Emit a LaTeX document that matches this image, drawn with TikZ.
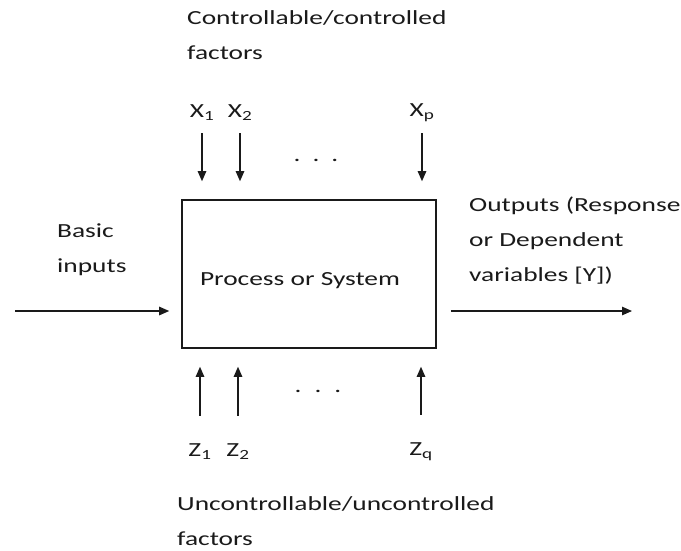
\documentclass[tikz,border=0pt]{standalone}
\usepackage{fontspec}
\setmainfont{Carlito}[FakeStretch=1.37]
\usetikzlibrary{arrows.meta,positioning,calc}
\definecolor{ink}{HTML}{1A1A1A}
\definecolor{paper}{HTML}{FFFFFF}
\tikzset{
  procbox/.style={draw=ink, fill=paper, line width=1.6pt, minimum width=254pt,
                  minimum height=148pt, inner sep=0pt},
  txt/.style={text=ink, font=\fontsize{20}{35}\selectfont, inner sep=0pt},
  blocktxt/.style={txt, align=left, anchor=west},
  arrow/.style={-{Triangle[length=10pt,width=8.5pt]}, line width=1.1pt, draw=ink}
}

\begin{document}
\begin{tikzpicture}[x=1pt,y=-1pt]
    \useasboundingbox (0,0) rectangle (681,550);

    % ===== central block =====
    \node[procbox] (box) at (309,274) {};
    \node[txt] (proc) at (300,281) {Process or System};

    % ===== controllable factors (top) =====
    \node[blocktxt] (ctrl) at (187,35) {Controllable/controlled\\factors};
    \node[txt] (x1) at (202,113) {X\textsubscript{1}};
    \node[txt] (x2) at (240,113) {X\textsubscript{2}};
    \node[txt] (xp) at (422,113) {X\textsubscript{p}};
    \node[txt] (xdots) at (316,160) {.\hspace{12pt}.\hspace{12pt}.};
    \foreach \n in {x1,x2,xp}
      \draw[arrow, shorten <=8pt, shorten >=18pt] (\n) ++(0,12) coordinate (\n top) -- (\n top |- box.north);

    % ===== uncontrollable factors (bottom) =====
    \node[txt] (z1) at (200,452) {Z\textsubscript{1}};
    \node[txt] (z2) at (238,452) {Z\textsubscript{2}};
    \node[txt] (zq) at (421,452) {Z\textsubscript{q}};
    \node[txt] (zdots) at (318,391) {.\hspace{13pt}.\hspace{13pt}.};
    \node[blocktxt] (unctrl) at (177,521) {Uncontrollable/uncontrolled\\factors};
    \foreach \n in {z1,z2,zq}
      \draw[arrow, shorten <=28pt, shorten >=18pt] (\n) -- (\n |- box.south);

    % ===== inputs and outputs =====
    \node[blocktxt] (basic) at (57,250) {Basic\\inputs};
    \coordinate (instart) at (15,311);
    \draw[arrow, shorten >=12pt] (instart) -- (instart -| box.west);
    \node[blocktxt] (outs) at (469,241) {Outputs (Response\\or Dependent\\variables [Y])};
    \coordinate (outend) at (632,311);
    \draw[arrow, shorten <=14pt] (outend -| box.east) -- (outend);
  \end{tikzpicture}
\end{document}
